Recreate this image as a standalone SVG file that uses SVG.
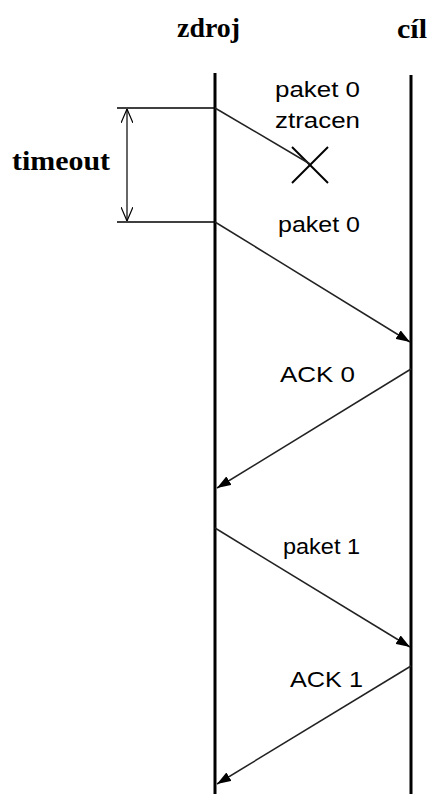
<svg xmlns="http://www.w3.org/2000/svg" width="427" height="794" viewBox="0 0 427 794">
<style>
.life{stroke:#000;stroke-width:3}
.msg{stroke:#222;stroke-width:1.5;fill:none}
.tick{stroke:#000;stroke-width:1.5}
.lbl{font-family:"Liberation Sans",Arial,sans-serif;font-size:22px;fill:#000}
.hd{font-family:"Liberation Serif","Times New Roman",serif;font-size:28px;font-weight:bold;fill:#000}
</style>
<defs>
<marker id="ah" markerWidth="14" markerHeight="10" refX="14" refY="5" orient="auto" markerUnits="userSpaceOnUse">
<path d="M0,0 L14,5 L0,10 Z" fill="#000"/>
</marker>
<marker id="oa" markerWidth="14" markerHeight="12" refX="14" refY="6" orient="auto" markerUnits="userSpaceOnUse">
<path d="M0,0 L14,6 L0,12" fill="none" stroke="#000" stroke-width="1.2"/>
</marker>
</defs>
<rect width="427" height="794" fill="#fff"/>
<g id="zdroj">
<text class="hd" x="177" y="37" textLength="63" lengthAdjust="spacingAndGlyphs">zdroj</text>
<line class="life" x1="215" y1="73" x2="215" y2="794"/>
</g>
<g id="cil">
<text class="hd" x="397" y="38" textLength="30" lengthAdjust="spacingAndGlyphs">cíl</text>
<line class="life" x1="411" y1="75" x2="411" y2="794"/>
</g>
<g id="timeout">
<line class="tick" x1="117" y1="108" x2="215" y2="108"/>
<line class="tick" x1="117" y1="222" x2="215" y2="222"/>
<line x1="127" y1="165" x2="127" y2="109" stroke="#000" stroke-width="1.2" marker-end="url(#oa)"/>
<line x1="127" y1="165" x2="127" y2="221" stroke="#000" stroke-width="1.2" marker-end="url(#oa)"/>
<text class="hd" x="12" y="170" textLength="98" lengthAdjust="spacingAndGlyphs">timeout</text>
</g>
<g id="lost">
<text class="lbl" x="275" y="97" textLength="85" lengthAdjust="spacingAndGlyphs">paket 0</text>
<text class="lbl" x="275" y="128" textLength="85" lengthAdjust="spacingAndGlyphs">ztracen</text>
<line x1="292" y1="147" x2="328" y2="183" stroke="#000" stroke-width="2"/>
<line x1="328" y1="147" x2="292" y2="183" stroke="#000" stroke-width="2"/>
</g>
<g id="labels">
<text class="lbl" x="278" y="232" textLength="82" lengthAdjust="spacingAndGlyphs">paket 0</text>
<text class="lbl" x="280" y="382" textLength="75" lengthAdjust="spacingAndGlyphs">ACK 0</text>
<text class="lbl" x="283" y="554" textLength="77" lengthAdjust="spacingAndGlyphs">paket 1</text>
<text class="lbl" x="290" y="687" textLength="73" lengthAdjust="spacingAndGlyphs">ACK 1</text>
</g>
<g id="connectors">
<line class="msg" x1="215" y1="108" x2="310" y2="164"/>
<line class="msg" x1="215" y1="222" x2="410" y2="342" marker-end="url(#ah)"/>
<line class="msg" x1="411" y1="369" x2="217" y2="488" marker-end="url(#ah)"/>
<line class="msg" x1="215" y1="528" x2="410" y2="647" marker-end="url(#ah)"/>
<line class="msg" x1="411" y1="666" x2="217" y2="784" marker-end="url(#ah)"/>
</g>
</svg>
